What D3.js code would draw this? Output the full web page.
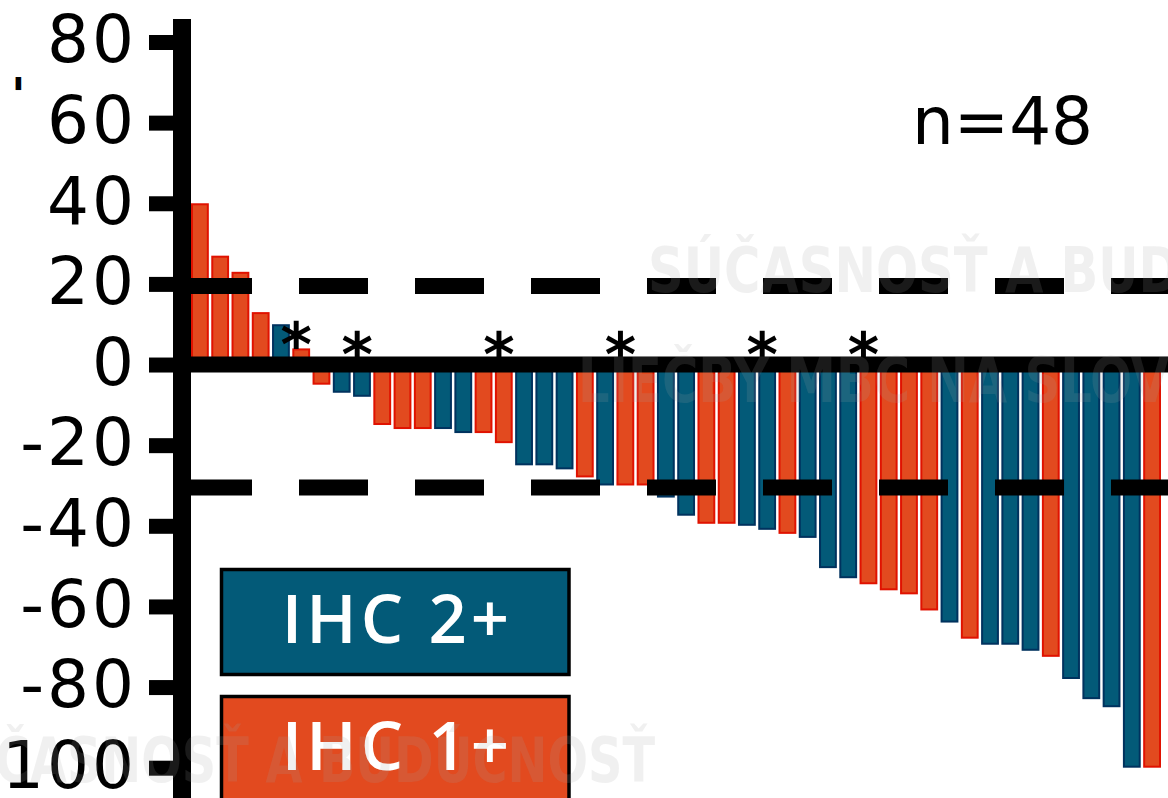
<!DOCTYPE html>
<html>
<head>
<meta charset="utf-8">
<script src="https://cdn.jsdelivr.net/npm/d3@7"></script>
<style>
  html, body { margin: 0; padding: 0; background: #fff; overflow: hidden; }
</style>
</head>
<body>
<div id="chart"></div>
<script>
// best change from baseline (%) per patient, sorted
const VALUES = [40, 27, 23, 13, 10, 4, -5, -7, -8, -15, -16, -16, -16, -17, -17, -19.5,
  -25, -25, -26, -28, -30, -30, -30, -33, -37.5, -39.5, -39.5, -40, -41, -42, -43, -50.5,
  -53, -54.5, -56, -57, -61, -64, -68, -69.5, -69.5, -71, -72.5, -78, -83, -85, -100, -100];
// HER2 expression per patient
const GROUPS = ["1+", "1+", "1+", "1+", "2+", "1+", "1+", "2+", "2+", "1+", "1+", "1+",
  "2+", "2+", "1+", "1+", "2+", "2+", "2+", "1+", "2+", "1+", "1+", "2+",
  "2+", "1+", "1+", "2+", "2+", "1+", "2+", "2+", "2+", "1+", "1+", "1+",
  "1+", "2+", "1+", "2+", "2+", "2+", "1+", "2+", "2+", "2+", "2+", "1+"];
const Y_TICKS = [80, 60, 40, 20, 0, -20, -40, -60, -80, -100];
const THRESHOLDS = [20, -30];
const STAR_BARS = [5, 8, 15, 21, 28, 33];
const STAR_LEVELS = [9, 6.5, 6.5, 6.5, 6.5, 6.5];
const LEGEND_KEYS = ["2+", "1+"];
const LEGEND_LABELS = ["IHC 2+", "IHC 1+"];
const N_LABEL = "n=48";
const WATERMARKS = ["SÚČASNOSŤ A BUDÚCNOSŤ", "LIEČBY MBC NA SLOVENSKU", "SÚČASNOSŤ A BUDÚCNOSŤ"];

(function () {
  const W = 1168, H = 798;
  const axisX = 173, axisW = 18;
  const fill = { "2+": "#035a78", "1+": "#e24a1f" };
  const edge = { "2+": "#00325e", "1+": "#e01200" };

  const svg = d3.select("#chart").append("svg")
    .attr("width", W).attr("height", H)
    .style("display", "block");

  const y = d3.scaleLinear().domain([-100, 80]).range([767.7, 42]);
  const x = d3.scaleBand()
    .domain(d3.range(VALUES.length))
    .range([axisX + axisW, 1161])
    .paddingInner(0.12)
    .paddingOuter(0);

  // bars
  const sw = 2;
  svg.append("g").selectAll("rect")
    .data(VALUES)
    .join("rect")
      .attr("x", (d, i) => x(i) + sw / 2)
      .attr("width", x.bandwidth() - sw)
      .attr("y", d => d >= 0 ? y(d) + sw / 2 : y(0))
      .attr("height", d => Math.abs(y(d) - y(0)) - sw / 2)
      .attr("fill", (d, i) => fill[GROUPS[i]])
      .attr("stroke", (d, i) => edge[GROUPS[i]])
      .attr("stroke-width", sw);

  // zero line
  svg.append("line")
    .attr("x1", axisX).attr("x2", W)
    .attr("y1", y(0)).attr("y2", y(0))
    .attr("stroke", "#000").attr("stroke-width", 16);

  // response thresholds
  svg.append("g").selectAll("line")
    .data(THRESHOLDS)
    .join("line")
      .attr("x1", 183).attr("x2", W)
      .attr("y1", d => y(d) + 2).attr("y2", d => y(d) + 2)
      .attr("stroke", "#000")
      .attr("stroke-width", 16)
      .attr("stroke-dasharray", "69,47");

  // y axis (plain hyphen for negatives, like the source)
  const yAxis = d3.axisLeft(y).tickValues(Y_TICKS).tickSize(24).tickPadding(12)
    .tickFormat(d => String(d));
  const yAxisGroup = svg.append("g")
    .attr("transform", "translate(" + axisX + ",0)")
    .call(yAxis);
  yAxisGroup.select(".domain").remove();
  yAxisGroup.selectAll(".tick line")
    .attr("stroke", "#000").attr("stroke-width", 15);
  yAxisGroup.selectAll(".tick text")
    .attr("fill", "#000")
    .attr("dy", "0.3em")
    .style("font-family", "'DejaVu Sans', sans-serif")
    .style("font-size", "66px")
    .style("letter-spacing", "3px");
  svg.append("line")
    .attr("x1", axisX + axisW / 2).attr("x2", axisX + axisW / 2)
    .attr("y1", 19).attr("y2", H)
    .attr("stroke", "#000").attr("stroke-width", axisW);

  // leftover mark of the cut-off axis title
  svg.append("text")
    .attr("x", 11).attr("y", 112)
    .attr("fill", "#000")
    .style("font-family", "'DejaVu Sans', sans-serif")
    .style("font-weight", "bold")
    .style("font-size", "48px")
    .text("'");

  // significance stars
  svg.append("g").selectAll("text")
    .data(STAR_BARS)
    .join("text")
      .attr("x", d => x(d) + 4)
      .attr("y", (d, i) => y(STAR_LEVELS[i]) + 38)
      .attr("text-anchor", "middle")
      .attr("fill", "#000")
      .style("font-family", "'DejaVu Sans', sans-serif")
      .style("font-weight", "bold")
      .style("font-size", "60px")
      .text("*");

  // n label
  svg.append("text")
    .attr("x", 912).attr("y", 144)
    .attr("fill", "#000")
    .style("font-family", "'DejaVu Sans', sans-serif")
    .style("font-size", "66px")
    .text(N_LABEL);

  // legend boxes
  const legend = svg.append("g").selectAll("g")
    .data(LEGEND_KEYS)
    .join("g")
      .attr("transform", (d, i) => "translate(221.5," + (569.5 + i * 127) + ")");
  legend.append("rect")
    .attr("width", 347.5).attr("height", 105)
    .attr("fill", d => fill[d])
    .attr("stroke", "#000").attr("stroke-width", 3.5);
  legend.append("text")
    .attr("x", 176).attr("y", 73.5)
    .attr("text-anchor", "middle")
    .attr("fill", "#fff")
    .style("font-family", "'Open Sans', sans-serif")
    .style("font-weight", "600")
    .style("font-size", "67px")
    .style("letter-spacing", "4px")
    .text((d, i) => LEGEND_LABELS[i]);

  // faint watermark of the source
  const wm = [
    { x: 648, y: 292, anchor: "start", sx: 0.8 },
    { x: 578, y: 402, anchor: "start", sx: 0.8 },
    { x: 655, y: 782, anchor: "end", sx: 0.77 }
  ];
  svg.append("g").selectAll("text")
    .data(WATERMARKS)
    .join("text")
      .attr("transform", (d, i) => "translate(" + wm[i].x + "," + wm[i].y + ") scale(" + wm[i].sx + ",1)")
      .attr("text-anchor", (d, i) => wm[i].anchor)
      .attr("fill", "#a3a3a3")
      .attr("fill-opacity", 0.16)
      .style("font-family", "'DejaVu Sans', sans-serif")
      .style("font-weight", "bold")
      .style("font-size", "62px")
      .text(d => d);
})();
</script>
</body>
</html>
